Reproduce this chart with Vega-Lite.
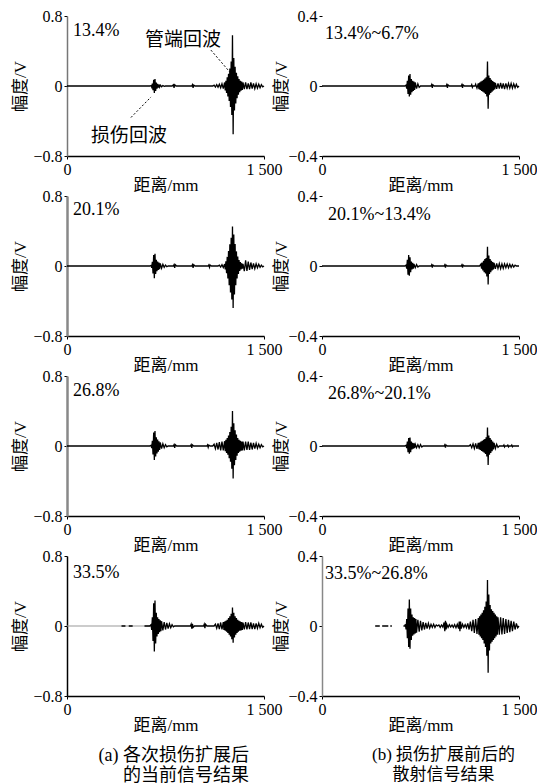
{
"$schema":"https://vega.github.io/schema/vega-lite/v6.json",
"padding":{"left":10,"top":8,"right":0,"bottom":0},
"bounds":"flush",
"columns":2,
"spacing":{"row":40,"column":58},
"datasets":{
"L1":[{"x":0,"y":0},{"x":630,"y":0},{"x":640,"y":0.004},{"x":645,"y":-0.012},{"x":650,"y":0.028},{"x":655,"y":-0.048},{"x":660,"y":0.072},{"x":665,"y":-0.08},{"x":670,"y":0.08},{"x":675,"y":-0.056},{"x":680,"y":0.04},{"x":685,"y":-0.03},{"x":690,"y":0.024},{"x":695,"y":-0.019},{"x":700,"y":0.015},{"x":705,"y":-0.012},{"x":710,"y":0.01},{"x":720,"y":-0.008},{"x":730,"y":0.006},{"x":740,"y":-0.003},{"x":750,"y":0},{"x":800,"y":0},{"x":810,"y":0.015},{"x":815,"y":-0.02},{"x":820,"y":0.015},{"x":830,"y":0},{"x":950,"y":0},{"x":955,"y":0.015},{"x":960,"y":-0.02},{"x":965,"y":0.01},{"x":975,"y":0},{"x":1110,"y":0},{"x":1120,"y":0.01},{"x":1130,"y":-0.012},{"x":1140,"y":0.015},{"x":1150,"y":-0.015},{"x":1160,"y":0.02},{"x":1170,"y":-0.02},{"x":1180,"y":0.025},{"x":1190,"y":-0.03},{"x":1200,"y":0.04},{"x":1205,"y":-0.05},{"x":1210,"y":0.06},{"x":1215,"y":-0.08},{"x":1220,"y":0.1},{"x":1225,"y":-0.12},{"x":1230,"y":0.14},{"x":1235,"y":-0.17},{"x":1240,"y":0.2},{"x":1245,"y":-0.24},{"x":1250,"y":0.28},{"x":1255,"y":-0.33},{"x":1260,"y":0.58},{"x":1265,"y":-0.55},{"x":1270,"y":0.32},{"x":1275,"y":-0.28},{"x":1280,"y":0.22},{"x":1285,"y":-0.2},{"x":1290,"y":0.15},{"x":1295,"y":-0.14},{"x":1300,"y":0.11},{"x":1305,"y":-0.1},{"x":1310,"y":0.08},{"x":1315,"y":-0.07},{"x":1320,"y":0.06},{"x":1325,"y":-0.055},{"x":1330,"y":0.05},{"x":1335,"y":-0.045},{"x":1340,"y":0.04},{"x":1350,"y":-0.035},{"x":1360,"y":0.04},{"x":1370,"y":-0.035},{"x":1380,"y":0.03},{"x":1390,"y":-0.035},{"x":1400,"y":0.04},{"x":1410,"y":-0.03},{"x":1420,"y":0.03},{"x":1430,"y":-0.03},{"x":1440,"y":0.025},{"x":1450,"y":-0.025},{"x":1460,"y":0.02},{"x":1470,"y":-0.02},{"x":1480,"y":0.015},{"x":1490,"y":-0.01},{"x":1500,"y":0}],
"L2":[{"x":0,"y":0},{"x":630,"y":0},{"x":640,"y":0.007},{"x":645,"y":-0.021},{"x":650,"y":0.049},{"x":655,"y":-0.084},{"x":660,"y":0.126},{"x":665,"y":-0.14},{"x":670,"y":0.14},{"x":675,"y":-0.09},{"x":680,"y":0.07},{"x":685,"y":-0.06},{"x":690,"y":0.05},{"x":695,"y":-0.045},{"x":700,"y":0.04},{"x":705,"y":-0.035},{"x":710,"y":0.03},{"x":720,"y":-0.025},{"x":730,"y":0.02},{"x":740,"y":-0.015},{"x":750,"y":0.01},{"x":760,"y":-0.008},{"x":770,"y":0},{"x":810,"y":0},{"x":815,"y":0.015},{"x":820,"y":-0.02},{"x":825,"y":0.015},{"x":835,"y":0},{"x":950,"y":0},{"x":955,"y":0.015},{"x":960,"y":-0.02},{"x":965,"y":0.015},{"x":975,"y":0},{"x":1075,"y":0},{"x":1080,"y":0.012},{"x":1085,"y":-0.015},{"x":1090,"y":0.01},{"x":1100,"y":0},{"x":1150,"y":0},{"x":1160,"y":0.01},{"x":1170,"y":-0.012},{"x":1180,"y":0.015},{"x":1190,"y":-0.018},{"x":1200,"y":0.023},{"x":1205,"y":-0.038},{"x":1210,"y":0.054},{"x":1215,"y":-0.082},{"x":1220,"y":0.104},{"x":1225,"y":-0.144},{"x":1230,"y":0.171},{"x":1235,"y":-0.221},{"x":1240,"y":0.248},{"x":1245,"y":-0.302},{"x":1250,"y":0.324},{"x":1255,"y":-0.384},{"x":1260,"y":0.45},{"x":1265,"y":-0.48},{"x":1270,"y":0.36},{"x":1275,"y":-0.326},{"x":1280,"y":0.252},{"x":1285,"y":-0.221},{"x":1290,"y":0.167},{"x":1295,"y":-0.144},{"x":1300,"y":0.108},{"x":1305,"y":-0.091},{"x":1310,"y":0.068},{"x":1315,"y":-0.058},{"x":1320,"y":0.045},{"x":1325,"y":-0.038},{"x":1330,"y":0.032},{"x":1335,"y":-0.029},{"x":1340,"y":0.023},{"x":1350,"y":-0.06},{"x":1360,"y":0.065},{"x":1370,"y":-0.055},{"x":1380,"y":0.05},{"x":1390,"y":-0.045},{"x":1400,"y":0.04},{"x":1410,"y":-0.035},{"x":1420,"y":0.03},{"x":1430,"y":-0.03},{"x":1440,"y":0.025},{"x":1450,"y":-0.02},{"x":1460,"y":0.02},{"x":1470,"y":-0.015},{"x":1480,"y":0.01},{"x":1490,"y":-0.01},{"x":1500,"y":0}],
"L3":[{"x":0,"y":0},{"x":630,"y":0},{"x":640,"y":0.009},{"x":645,"y":-0.024},{"x":650,"y":0.06},{"x":655,"y":-0.096},{"x":660,"y":0.153},{"x":665,"y":-0.16},{"x":670,"y":0.17},{"x":675,"y":-0.12},{"x":680,"y":0.1},{"x":685,"y":-0.085},{"x":690,"y":0.075},{"x":695,"y":-0.065},{"x":700,"y":0.055},{"x":705,"y":-0.045},{"x":710,"y":0.04},{"x":720,"y":-0.03},{"x":730,"y":0.025},{"x":740,"y":-0.02},{"x":750,"y":0.015},{"x":760,"y":-0.01},{"x":770,"y":0},{"x":810,"y":0},{"x":815,"y":0.015},{"x":820,"y":-0.02},{"x":825,"y":0.015},{"x":835,"y":0},{"x":940,"y":0},{"x":945,"y":0.015},{"x":950,"y":-0.02},{"x":955,"y":0.012},{"x":965,"y":0},{"x":1065,"y":0},{"x":1070,"y":0.012},{"x":1075,"y":-0.015},{"x":1080,"y":0.01},{"x":1090,"y":0},{"x":1110,"y":0},{"x":1120,"y":0.02},{"x":1130,"y":-0.03},{"x":1140,"y":0.035},{"x":1150,"y":-0.04},{"x":1160,"y":0.045},{"x":1170,"y":-0.05},{"x":1180,"y":0.05},{"x":1190,"y":-0.05},{"x":1200,"y":0.055},{"x":1205,"y":-0.06},{"x":1210,"y":0.07},{"x":1215,"y":-0.08},{"x":1220,"y":0.09},{"x":1225,"y":-0.1},{"x":1230,"y":0.12},{"x":1235,"y":-0.14},{"x":1240,"y":0.16},{"x":1245,"y":-0.18},{"x":1250,"y":0.22},{"x":1255,"y":-0.26},{"x":1260,"y":0.4},{"x":1265,"y":-0.37},{"x":1270,"y":0.26},{"x":1275,"y":-0.22},{"x":1280,"y":0.18},{"x":1285,"y":-0.16},{"x":1290,"y":0.13},{"x":1295,"y":-0.11},{"x":1300,"y":0.09},{"x":1305,"y":-0.08},{"x":1310,"y":0.07},{"x":1315,"y":-0.065},{"x":1320,"y":0.06},{"x":1325,"y":-0.055},{"x":1330,"y":0.05},{"x":1335,"y":-0.05},{"x":1340,"y":0.05},{"x":1350,"y":-0.05},{"x":1360,"y":0.05},{"x":1370,"y":-0.045},{"x":1380,"y":0.05},{"x":1390,"y":-0.045},{"x":1400,"y":0.04},{"x":1410,"y":-0.04},{"x":1420,"y":0.035},{"x":1430,"y":-0.03},{"x":1440,"y":0.03},{"x":1450,"y":-0.025},{"x":1460,"y":0.02},{"x":1470,"y":-0.02},{"x":1480,"y":0.015},{"x":1490,"y":-0.01},{"x":1500,"y":0}],
"L4":[{"x":415,"y":0},{"x":445,"y":0},{"x":447,"y":null},{"x":470,"y":0},{"x":500,"y":0},{"x":505,"y":null},{"x":590,"y":0},{"x":630,"y":0},{"x":640,"y":0.015},{"x":645,"y":-0.045},{"x":650,"y":0.1},{"x":655,"y":-0.17},{"x":660,"y":0.26},{"x":665,"y":-0.29},{"x":670,"y":0.29},{"x":675,"y":-0.2},{"x":680,"y":0.15},{"x":685,"y":-0.12},{"x":690,"y":0.1},{"x":695,"y":-0.09},{"x":700,"y":0.08},{"x":705,"y":-0.07},{"x":710,"y":0.065},{"x":715,"y":-0.06},{"x":720,"y":0.055},{"x":730,"y":-0.05},{"x":740,"y":0.045},{"x":750,"y":-0.04},{"x":760,"y":0.035},{"x":770,"y":-0.03},{"x":780,"y":0.025},{"x":790,"y":-0.02},{"x":800,"y":0.015},{"x":810,"y":-0.01},{"x":820,"y":0},{"x":940,"y":0},{"x":945,"y":0.02},{"x":950,"y":-0.03},{"x":955,"y":0.025},{"x":960,"y":-0.015},{"x":970,"y":0},{"x":1040,"y":0},{"x":1045,"y":0.02},{"x":1050,"y":-0.025},{"x":1055,"y":0.02},{"x":1065,"y":0},{"x":1120,"y":0},{"x":1130,"y":0.02},{"x":1140,"y":-0.025},{"x":1150,"y":0.03},{"x":1160,"y":-0.035},{"x":1170,"y":0.04},{"x":1180,"y":-0.04},{"x":1190,"y":0.045},{"x":1195,"y":-0.045},{"x":1200,"y":0.05},{"x":1205,"y":-0.055},{"x":1210,"y":0.06},{"x":1215,"y":-0.065},{"x":1220,"y":0.07},{"x":1225,"y":-0.08},{"x":1230,"y":0.09},{"x":1235,"y":-0.1},{"x":1240,"y":0.11},{"x":1245,"y":-0.12},{"x":1250,"y":0.14},{"x":1255,"y":-0.15},{"x":1260,"y":0.21},{"x":1265,"y":-0.19},{"x":1270,"y":0.15},{"x":1275,"y":-0.13},{"x":1280,"y":0.11},{"x":1285,"y":-0.1},{"x":1290,"y":0.09},{"x":1295,"y":-0.08},{"x":1300,"y":0.07},{"x":1305,"y":-0.065},{"x":1310,"y":0.06},{"x":1315,"y":-0.055},{"x":1320,"y":0.05},{"x":1325,"y":-0.05},{"x":1330,"y":0.045},{"x":1335,"y":-0.045},{"x":1340,"y":0.04},{"x":1350,"y":-0.04},{"x":1360,"y":0.045},{"x":1370,"y":-0.04},{"x":1380,"y":0.04},{"x":1390,"y":-0.035},{"x":1400,"y":0.04},{"x":1410,"y":-0.035},{"x":1420,"y":0.03},{"x":1430,"y":-0.035},{"x":1440,"y":0.03},{"x":1450,"y":-0.025},{"x":1460,"y":0.03},{"x":1470,"y":-0.02},{"x":1480,"y":0.02},{"x":1490,"y":-0.015},{"x":1500,"y":0}],
"R1":[{"x":0,"y":0},{"x":630,"y":0},{"x":640,"y":0.005},{"x":645,"y":-0.015},{"x":650,"y":0.03},{"x":655,"y":-0.045},{"x":660,"y":0.06},{"x":665,"y":-0.06},{"x":670,"y":0.068},{"x":675,"y":-0.05},{"x":680,"y":0.04},{"x":685,"y":-0.035},{"x":690,"y":0.03},{"x":695,"y":-0.028},{"x":700,"y":0.025},{"x":705,"y":-0.022},{"x":710,"y":0.02},{"x":720,"y":-0.015},{"x":730,"y":0.012},{"x":740,"y":-0.008},{"x":750,"y":0},{"x":830,"y":0},{"x":835,"y":0.008},{"x":840,"y":-0.01},{"x":845,"y":0.006},{"x":855,"y":0},{"x":945,"y":0},{"x":950,"y":0.008},{"x":955,"y":-0.01},{"x":960,"y":0.006},{"x":970,"y":0},{"x":1060,"y":0},{"x":1065,"y":0.008},{"x":1070,"y":-0.01},{"x":1075,"y":0.006},{"x":1085,"y":0},{"x":1135,"y":0},{"x":1140,"y":0.008},{"x":1145,"y":-0.008},{"x":1150,"y":0},{"x":1165,"y":0},{"x":1170,"y":0.01},{"x":1180,"y":-0.012},{"x":1190,"y":0.015},{"x":1195,"y":-0.018},{"x":1200,"y":0.02},{"x":1205,"y":-0.022},{"x":1210,"y":0.025},{"x":1215,"y":-0.028},{"x":1220,"y":0.03},{"x":1225,"y":-0.032},{"x":1230,"y":0.035},{"x":1235,"y":-0.038},{"x":1240,"y":0.042},{"x":1245,"y":-0.045},{"x":1250,"y":0.05},{"x":1255,"y":-0.06},{"x":1260,"y":0.14},{"x":1265,"y":-0.13},{"x":1270,"y":0.06},{"x":1275,"y":-0.05},{"x":1280,"y":0.045},{"x":1285,"y":-0.04},{"x":1290,"y":0.035},{"x":1295,"y":-0.032},{"x":1300,"y":0.028},{"x":1305,"y":-0.025},{"x":1310,"y":0.022},{"x":1315,"y":-0.02},{"x":1320,"y":0.018},{"x":1330,"y":-0.016},{"x":1340,"y":0.015},{"x":1350,"y":-0.015},{"x":1360,"y":0.018},{"x":1370,"y":-0.015},{"x":1380,"y":0.015},{"x":1390,"y":-0.018},{"x":1400,"y":0.015},{"x":1410,"y":-0.012},{"x":1420,"y":0.015},{"x":1430,"y":-0.012},{"x":1440,"y":0.015},{"x":1450,"y":-0.012},{"x":1460,"y":0.012},{"x":1470,"y":-0.01},{"x":1480,"y":0.01},{"x":1490,"y":-0.008},{"x":1500,"y":0}],
"R2":[{"x":0,"y":0},{"x":630,"y":0},{"x":640,"y":0.005},{"x":645,"y":-0.015},{"x":650,"y":0.035},{"x":655,"y":-0.05},{"x":660,"y":0.063},{"x":665,"y":-0.055},{"x":670,"y":0.05},{"x":675,"y":-0.035},{"x":680,"y":0.025},{"x":685,"y":-0.02},{"x":690,"y":0.018},{"x":695,"y":-0.015},{"x":700,"y":0.012},{"x":710,"y":-0.01},{"x":720,"y":0.008},{"x":730,"y":-0.006},{"x":740,"y":0},{"x":830,"y":0},{"x":835,"y":0.007},{"x":840,"y":-0.009},{"x":845,"y":0.005},{"x":855,"y":0},{"x":930,"y":0},{"x":935,"y":0.007},{"x":940,"y":-0.009},{"x":945,"y":0.005},{"x":955,"y":0},{"x":1060,"y":0},{"x":1065,"y":0.007},{"x":1070,"y":-0.009},{"x":1075,"y":0.005},{"x":1085,"y":0},{"x":1200,"y":0},{"x":1210,"y":0.01},{"x":1215,"y":-0.015},{"x":1220,"y":0.02},{"x":1225,"y":-0.025},{"x":1230,"y":0.03},{"x":1235,"y":-0.035},{"x":1240,"y":0.04},{"x":1245,"y":-0.042},{"x":1250,"y":0.045},{"x":1255,"y":-0.06},{"x":1260,"y":0.11},{"x":1265,"y":-0.105},{"x":1270,"y":0.06},{"x":1275,"y":-0.045},{"x":1280,"y":0.04},{"x":1285,"y":-0.035},{"x":1290,"y":0.03},{"x":1295,"y":-0.025},{"x":1300,"y":0.022},{"x":1305,"y":-0.02},{"x":1310,"y":0.018},{"x":1320,"y":-0.016},{"x":1330,"y":0.015},{"x":1340,"y":-0.014},{"x":1350,"y":0.014},{"x":1360,"y":-0.015},{"x":1370,"y":0.012},{"x":1380,"y":-0.014},{"x":1390,"y":0.012},{"x":1400,"y":-0.01},{"x":1410,"y":0.012},{"x":1420,"y":-0.01},{"x":1430,"y":0.01},{"x":1440,"y":-0.008},{"x":1450,"y":0.008},{"x":1460,"y":-0.006},{"x":1470,"y":0.005},{"x":1480,"y":0},{"x":1500,"y":0}],
"R3":[{"x":0,"y":0},{"x":630,"y":0},{"x":640,"y":0.004},{"x":645,"y":-0.012},{"x":650,"y":0.025},{"x":655,"y":-0.035},{"x":660,"y":0.045},{"x":665,"y":-0.044},{"x":670,"y":0.048},{"x":675,"y":-0.035},{"x":680,"y":0.025},{"x":685,"y":-0.02},{"x":690,"y":0.018},{"x":695,"y":-0.015},{"x":700,"y":0.015},{"x":705,"y":-0.012},{"x":710,"y":0.01},{"x":720,"y":-0.01},{"x":730,"y":0.008},{"x":740,"y":-0.01},{"x":750,"y":0.008},{"x":760,"y":-0.006},{"x":770,"y":0},{"x":930,"y":0},{"x":935,"y":0.007},{"x":940,"y":-0.009},{"x":945,"y":0.005},{"x":955,"y":0},{"x":1120,"y":0},{"x":1130,"y":0.008},{"x":1140,"y":-0.01},{"x":1150,"y":0.012},{"x":1160,"y":-0.014},{"x":1170,"y":0.015},{"x":1180,"y":-0.016},{"x":1190,"y":0.018},{"x":1195,"y":-0.018},{"x":1200,"y":0.02},{"x":1205,"y":-0.022},{"x":1210,"y":0.025},{"x":1215,"y":-0.028},{"x":1220,"y":0.03},{"x":1225,"y":-0.032},{"x":1230,"y":0.035},{"x":1235,"y":-0.038},{"x":1240,"y":0.04},{"x":1245,"y":-0.045},{"x":1250,"y":0.05},{"x":1255,"y":-0.06},{"x":1260,"y":0.105},{"x":1265,"y":-0.108},{"x":1270,"y":0.06},{"x":1275,"y":-0.05},{"x":1280,"y":0.045},{"x":1285,"y":-0.04},{"x":1290,"y":0.035},{"x":1295,"y":-0.03},{"x":1300,"y":0.025},{"x":1305,"y":-0.02},{"x":1310,"y":0.018},{"x":1320,"y":-0.014},{"x":1330,"y":0.01},{"x":1340,"y":-0.008},{"x":1350,"y":0},{"x":1380,"y":0},{"x":1385,"y":0.006},{"x":1390,"y":-0.006},{"x":1395,"y":0},{"x":1410,"y":0},{"x":1415,"y":0.005},{"x":1420,"y":-0.005},{"x":1425,"y":0},{"x":1440,"y":0},{"x":1445,"y":0.005},{"x":1450,"y":-0.004},{"x":1455,"y":0},{"x":1500,"y":0}],
"R4":[{"x":405,"y":0},{"x":440,"y":0},{"x":445,"y":null},{"x":458,"y":0},{"x":505,"y":0},{"x":510,"y":null},{"x":520,"y":0},{"x":532,"y":0},{"x":540,"y":null},{"x":620,"y":0},{"x":630,"y":0},{"x":635,"y":0.01},{"x":640,"y":-0.02},{"x":645,"y":0.04},{"x":650,"y":-0.07},{"x":655,"y":0.1},{"x":660,"y":-0.12},{"x":665,"y":0.152},{"x":670,"y":-0.13},{"x":675,"y":0.1},{"x":680,"y":-0.08},{"x":685,"y":0.065},{"x":690,"y":-0.055},{"x":695,"y":0.05},{"x":700,"y":-0.048},{"x":705,"y":0.045},{"x":710,"y":-0.042},{"x":715,"y":0.04},{"x":720,"y":-0.038},{"x":730,"y":0.035},{"x":740,"y":-0.032},{"x":750,"y":0.03},{"x":760,"y":-0.025},{"x":770,"y":0.022},{"x":780,"y":-0.02},{"x":790,"y":0.018},{"x":800,"y":-0.015},{"x":810,"y":0.015},{"x":820,"y":-0.012},{"x":830,"y":0.01},{"x":840,"y":-0.008},{"x":850,"y":0.01},{"x":860,"y":-0.008},{"x":870,"y":0.006},{"x":880,"y":0},{"x":890,"y":0.006},{"x":900,"y":-0.008},{"x":910,"y":0.006},{"x":920,"y":-0.006},{"x":930,"y":0.02},{"x":935,"y":-0.03},{"x":940,"y":0.03},{"x":945,"y":-0.02},{"x":950,"y":0.01},{"x":960,"y":-0.008},{"x":970,"y":0.008},{"x":980,"y":-0.006},{"x":990,"y":0.006},{"x":1000,"y":-0.008},{"x":1010,"y":0.008},{"x":1020,"y":-0.01},{"x":1030,"y":0.01},{"x":1040,"y":-0.015},{"x":1045,"y":0.025},{"x":1050,"y":-0.03},{"x":1055,"y":0.025},{"x":1060,"y":-0.015},{"x":1070,"y":0.01},{"x":1080,"y":-0.008},{"x":1090,"y":0.008},{"x":1100,"y":-0.01},{"x":1110,"y":0.015},{"x":1120,"y":-0.02},{"x":1130,"y":0.025},{"x":1140,"y":-0.03},{"x":1150,"y":0.035},{"x":1160,"y":-0.04},{"x":1170,"y":0.04},{"x":1180,"y":-0.045},{"x":1190,"y":0.045},{"x":1195,"y":-0.05},{"x":1200,"y":0.055},{"x":1205,"y":-0.06},{"x":1210,"y":0.065},{"x":1215,"y":-0.07},{"x":1220,"y":0.075},{"x":1225,"y":-0.08},{"x":1230,"y":0.09},{"x":1235,"y":-0.1},{"x":1240,"y":0.11},{"x":1245,"y":-0.12},{"x":1250,"y":0.14},{"x":1255,"y":-0.17},{"x":1260,"y":0.263},{"x":1265,"y":-0.267},{"x":1270,"y":0.18},{"x":1275,"y":-0.14},{"x":1280,"y":0.12},{"x":1285,"y":-0.1},{"x":1290,"y":0.095},{"x":1295,"y":-0.09},{"x":1300,"y":0.085},{"x":1305,"y":-0.08},{"x":1310,"y":0.075},{"x":1315,"y":-0.07},{"x":1320,"y":0.065},{"x":1325,"y":-0.06},{"x":1330,"y":0.055},{"x":1335,"y":-0.05},{"x":1340,"y":0.05},{"x":1350,"y":-0.05},{"x":1360,"y":0.05},{"x":1370,"y":-0.048},{"x":1380,"y":0.045},{"x":1390,"y":-0.045},{"x":1400,"y":0.04},{"x":1410,"y":-0.04},{"x":1420,"y":0.035},{"x":1430,"y":-0.035},{"x":1440,"y":0.03},{"x":1450,"y":-0.03},{"x":1460,"y":0.025},{"x":1470,"y":-0.02},{"x":1480,"y":0.015},{"x":1490,"y":-0.01},{"x":1500,"y":0}]
},
"concat":[
{"width":197,"height":140,"layer":[
 {"data":{"name":"L1"},"mark":{"type":"line","color":"black","strokeWidth":1.3},
  "encoding":{"x":{"field":"x","type":"quantitative","scale":{"domain":[0,1500],"nice":false},"axis":{"title":"距离/mm","values":[0,1500],"labelExpr":"datum.value == 0 ? '0' : '1 500'","labelFlush":false}},
  "y":{"field":"y","type":"quantitative","scale":{"domain":[-0.8,0.8],"nice":false},"axis":{"title":"幅度/V","values":[-0.8,0,0.8],"format":".1~f","titleX":-47,"titleY":70,"domainColor":"#777"}}}},
 {"data":{"values":[{}]},"mark":{"type":"text","align":"left","baseline":"middle","font":"Liberation Serif","fontSize":18},"encoding":{"x":{"datum":45},"y":{"datum":0.63},"text":{"value":"13.4%"}}},
 {"data":{"values":[{}]},"mark":{"type":"text","align":"center","baseline":"middle","font":"Noto Sans CJK SC","fontSize":19},"encoding":{"x":{"datum":883},"y":{"datum":0.526},"text":{"value":"管端回波"}}},
 {"data":{"values":[{}]},"mark":{"type":"text","align":"center","baseline":"middle","font":"Noto Sans CJK SC","fontSize":19},"encoding":{"x":{"datum":472},"y":{"datum":-0.566},"text":{"value":"损伤回波"}}},
 {"data":{"values":[{}]},"mark":{"type":"rule","color":"black","strokeWidth":1,"strokeDash":[2,2]},"encoding":{"x":{"datum":1096},"y":{"datum":0.41},"x2":{"datum":1245},"y2":{"datum":0.15}}},
 {"data":{"values":[{}]},"mark":{"type":"rule","color":"black","strokeWidth":1,"strokeDash":[2,2]},"encoding":{"x":{"datum":487},"y":{"datum":-0.36},"x2":{"datum":640},"y2":{"datum":-0.125}}}
]},
{"width":197,"height":140,"layer":[
 {"data":{"name":"R1"},"mark":{"type":"line","color":"black","strokeWidth":1.3},
  "encoding":{"x":{"field":"x","type":"quantitative","scale":{"domain":[0,1500],"nice":false},"axis":{"title":"距离/mm","values":[0,1500],"labelExpr":"datum.value == 0 ? '0' : '1 500'","labelFlush":false}},
  "y":{"field":"y","type":"quantitative","scale":{"domain":[-0.4,0.4],"nice":false},"axis":{"title":"幅度/V","values":[-0.4,0,0.4],"format":".1~f","titleX":-41,"titleY":70,"domain":false}}}},
 {"data":{"values":[{}]},"mark":{"type":"text","align":"left","baseline":"middle","font":"Liberation Serif","fontSize":18},"encoding":{"x":{"datum":23},"y":{"datum":0.3},"text":{"value":"13.4%~6.7%"}}}
]},
{"width":197,"height":140,"layer":[
 {"data":{"name":"L2"},"mark":{"type":"line","color":"black","strokeWidth":1.3},
  "encoding":{"x":{"field":"x","type":"quantitative","scale":{"domain":[0,1500],"nice":false},"axis":{"title":"距离/mm","values":[0,1500],"labelExpr":"datum.value == 0 ? '0' : '1 500'","labelFlush":false}},
  "y":{"field":"y","type":"quantitative","scale":{"domain":[-0.8,0.8],"nice":false},"axis":{"title":"幅度/V","values":[-0.8,0,0.8],"format":".1~f","titleX":-47,"titleY":70,"domainColor":"#888","domainWidth":2.5}}}},
 {"data":{"values":[{}]},"mark":{"type":"text","align":"left","baseline":"middle","font":"Liberation Serif","fontSize":18},"encoding":{"x":{"datum":45},"y":{"datum":0.64},"text":{"value":"20.1%"}}}
]},
{"width":197,"height":140,"layer":[
 {"data":{"name":"R2"},"mark":{"type":"line","color":"black","strokeWidth":1.3},
  "encoding":{"x":{"field":"x","type":"quantitative","scale":{"domain":[0,1500],"nice":false},"axis":{"title":"距离/mm","values":[0,1500],"labelExpr":"datum.value == 0 ? '0' : '1 500'","labelFlush":false}},
  "y":{"field":"y","type":"quantitative","scale":{"domain":[-0.4,0.4],"nice":false},"axis":{"title":"幅度/V","values":[-0.4,0,0.4],"format":".1~f","titleX":-41,"titleY":70,"domain":false}}}},
 {"data":{"values":[{}]},"mark":{"type":"text","align":"left","baseline":"middle","font":"Liberation Serif","fontSize":18},"encoding":{"x":{"datum":45},"y":{"datum":0.29},"text":{"value":"20.1%~13.4%"}}}
]},
{"width":197,"height":140,"layer":[
 {"data":{"name":"L3"},"mark":{"type":"line","color":"black","strokeWidth":1.3},
  "encoding":{"x":{"field":"x","type":"quantitative","scale":{"domain":[0,1500],"nice":false},"axis":{"title":"距离/mm","values":[0,1500],"labelExpr":"datum.value == 0 ? '0' : '1 500'","labelFlush":false}},
  "y":{"field":"y","type":"quantitative","scale":{"domain":[-0.8,0.8],"nice":false},"axis":{"title":"幅度/V","values":[-0.8,0,0.8],"format":".1~f","titleX":-47,"titleY":70,"domainColor":"#888","domainWidth":2.5}}}},
 {"data":{"values":[{}]},"mark":{"type":"text","align":"left","baseline":"middle","font":"Liberation Serif","fontSize":18},"encoding":{"x":{"datum":45},"y":{"datum":0.63},"text":{"value":"26.8%"}}}
]},
{"width":197,"height":140,"layer":[
 {"data":{"name":"R3"},"mark":{"type":"line","color":"black","strokeWidth":1.3},
  "encoding":{"x":{"field":"x","type":"quantitative","scale":{"domain":[0,1500],"nice":false},"axis":{"title":"距离/mm","values":[0,1500],"labelExpr":"datum.value == 0 ? '0' : '1 500'","labelFlush":false}},
  "y":{"field":"y","type":"quantitative","scale":{"domain":[-0.4,0.4],"nice":false},"axis":{"title":"幅度/V","values":[-0.4,0,0.4],"format":".1~f","titleX":-41,"titleY":70,"domain":false}}}},
 {"data":{"values":[{}]},"mark":{"type":"text","align":"left","baseline":"middle","font":"Liberation Serif","fontSize":18},"encoding":{"x":{"datum":45},"y":{"datum":0.3},"text":{"value":"26.8%~20.1%"}}}
]},
{"width":197,"height":140,
 "title":{"text":["(a) 各次损伤扩展后","的当前信号结果"],"orient":"bottom","anchor":"end","frame":"group","align":"right","dx":-15,"offset":14,"font":"Liberation Serif, Noto Sans CJK SC","fontSize":18,"fontWeight":"normal","lineHeight":20,"color":"black"},
 "layer":[
 {"data":{"values":[{}]},"mark":{"type":"rule","color":"#999","strokeWidth":1},"encoding":{"x":{"datum":0},"x2":{"datum":640},"y":{"datum":0}}},
 {"data":{"name":"L4"},"mark":{"type":"line","color":"black","strokeWidth":1.3},
  "encoding":{"x":{"field":"x","type":"quantitative","scale":{"domain":[0,1500],"nice":false},"axis":{"title":"距离/mm","values":[0,1500],"labelExpr":"datum.value == 0 ? '0' : '1 500'","labelFlush":false}},
  "y":{"field":"y","type":"quantitative","scale":{"domain":[-0.8,0.8],"nice":false},"axis":{"title":"幅度/V","values":[-0.8,0,0.8],"format":".1~f","titleX":-47,"titleY":70}}}},
 {"data":{"values":[{}]},"mark":{"type":"text","align":"left","baseline":"middle","font":"Liberation Serif","fontSize":18},"encoding":{"x":{"datum":45},"y":{"datum":0.61},"text":{"value":"33.5%"}}}
]},
{"width":197,"height":140,
 "title":{"text":["(b) 损伤扩展前后的","散射信号结果"],"orient":"bottom","anchor":"middle","frame":"group","dx":23,"offset":14,"font":"Liberation Serif, Noto Sans CJK SC","fontSize":17,"fontWeight":"normal","lineHeight":20,"color":"black"},
 "layer":[
 {"data":{"name":"R4"},"mark":{"type":"line","color":"black","strokeWidth":1.3},
  "encoding":{"x":{"field":"x","type":"quantitative","scale":{"domain":[0,1500],"nice":false},"axis":{"title":"距离/mm","values":[0,1500],"labelExpr":"datum.value == 0 ? '0' : '1 500'","labelFlush":false}},
  "y":{"field":"y","type":"quantitative","scale":{"domain":[-0.4,0.4],"nice":false},"axis":{"title":"幅度/V","values":[-0.4,0,0.4],"format":".1~f","titleX":-41,"titleY":70,"domainColor":"#888"}}}},
 {"data":{"values":[{}]},"mark":{"type":"text","align":"left","baseline":"middle","font":"Liberation Serif","fontSize":18},"encoding":{"x":{"datum":23},"y":{"datum":0.3},"text":{"value":"33.5%~26.8%"}}}
]}
],
"config":{
 "view":{"stroke":null},
 "axis":{"grid":false,"labelFont":"Liberation Serif","labelFontSize":16,"labelColor":"black","titleFont":"Liberation Serif, Noto Sans CJK SC","titleFontSize":17,"titleFontWeight":"normal","titleColor":"black","domainColor":"black","domainWidth":1.5,"tickColor":"black","tickSize":3,"labelPadding":2,"titlePadding":0},
 "axisY":{"titleBaseline":"middle","titleAlign":"center"}
}
}
